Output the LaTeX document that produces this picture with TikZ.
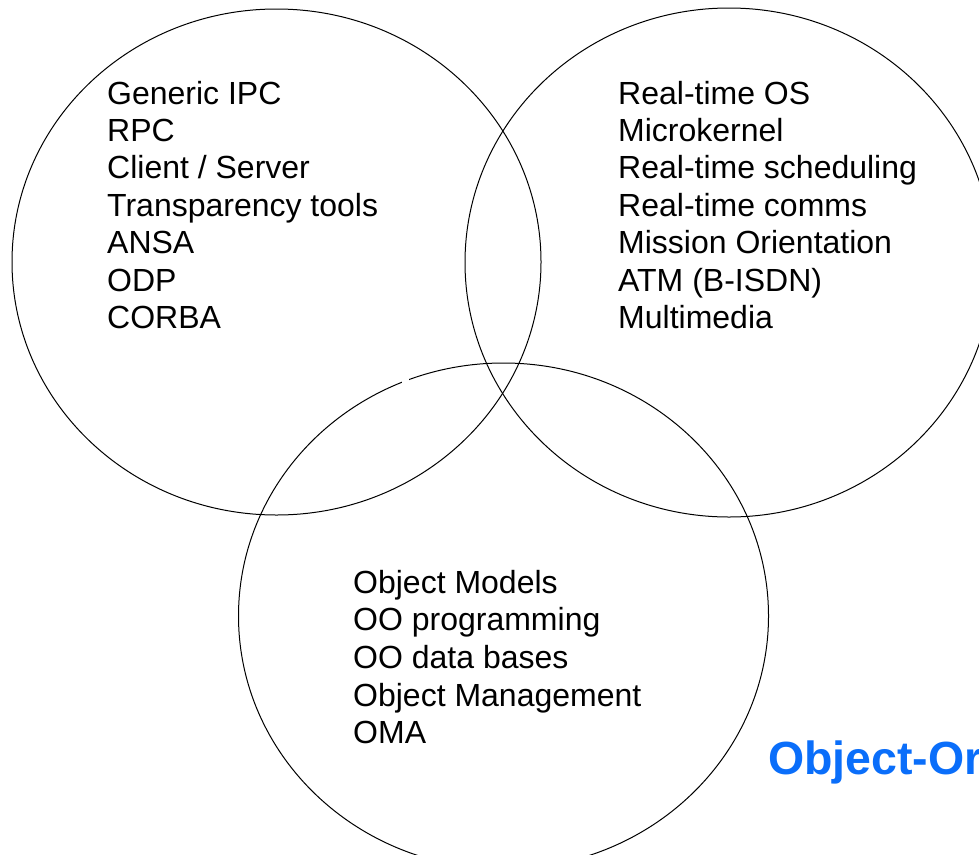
\documentclass[tikz,border=0pt]{standalone}
\usepackage{fontspec}
\setmainfont{Liberation Sans}
\definecolor{titleblue}{RGB}{10,110,250}
\tikzset{
  ring/.style={draw=black, line width=1pt},
  item/.style={anchor=base west, inner sep=0pt, font=\fontsize{32}{37}\selectfont},
  title/.style={anchor=base west, inner sep=0pt, text=titleblue, font=\fontsize{46.5}{50}\selectfont\bfseries}
}
\begin{document}
\begin{tikzpicture}[x=1pt,y=-1pt]
\useasboundingbox (0,0) rectangle (979,854);
\clip (0,0) rectangle (979,854);
\fill[white] (0,0) rectangle (979,854);
% circles
\draw[ring] (276.5,262) ellipse [x radius=264.5, y radius=253];
\draw[ring] (729,262.5) ellipse [x radius=264, y radius=254.5];
\draw[ring] (503.5,616) ellipse [x radius=265, y radius=253];
\fill[white] (401.5,379) rectangle (408.5,387);
% left list
\foreach \t [count=\i from 0] in {Generic IPC,RPC,Client / Server,Transparency tools,ANSA,ODP,CORBA}
  \node[item] (L\i) at (107,{104+37.4*\i}) {\t};
% right list
\foreach \t [count=\i from 0] in {Real-time OS,Microkernel,Real-time scheduling,Real-time comms,Mission Orientation,ATM (B-ISDN),Multimedia}
  \node[item] (R\i) at (618,{104+37.4*\i}) {\t};
% bottom list
\foreach \t [count=\i from 0] in {Object Models,OO programming,OO data bases,Object Management,OMA}
  \node[item] (B\i) at (353,{593+37.7*\i}) {\t};
\node[title] (T) at (768,774) {Object-Or};
\end{tikzpicture}
\end{document}
